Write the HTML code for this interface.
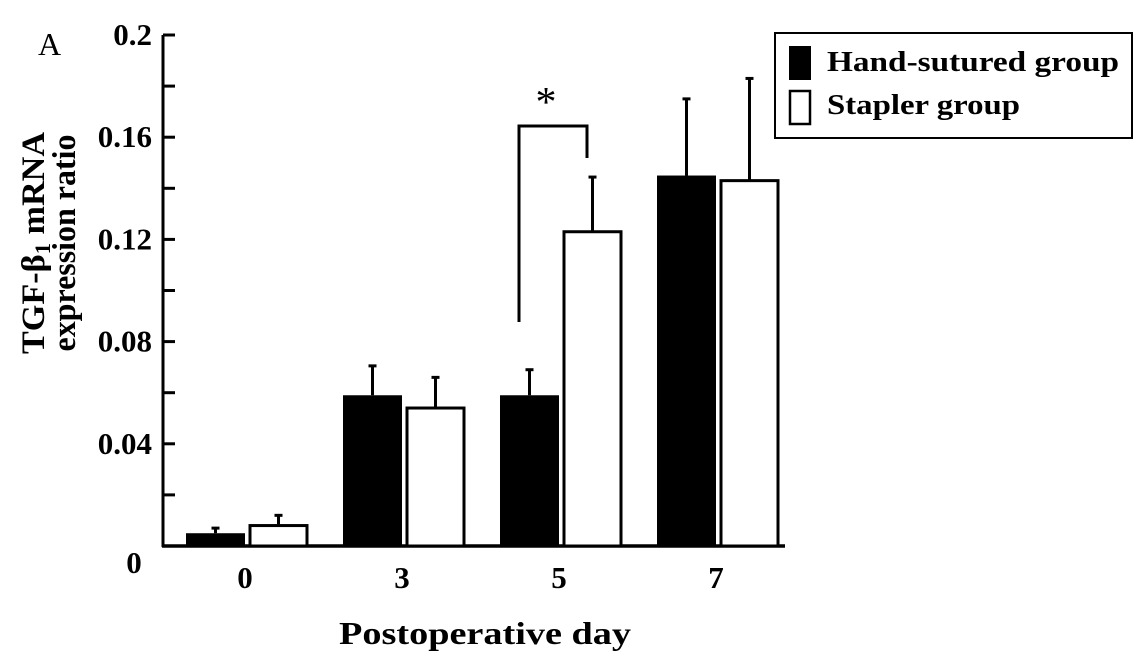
<!DOCTYPE html>
<html><head><meta charset="utf-8"><style>
html,body{margin:0;padding:0;background:#fff;}
svg text{font-family:"Liberation Serif",serif;}
</style></head><body>
<svg id="chart" width="1145" height="657" viewBox="0 0 1145 657" xmlns="http://www.w3.org/2000/svg">
<text x="38" y="55" font-size="32">A</text>
<g font-weight="bold" font-size="33">
<text transform="translate(44,243) rotate(-90)" text-anchor="middle" textLength="222" lengthAdjust="spacingAndGlyphs">TGF-β<tspan font-size="22" dy="6">1</tspan><tspan dy="-6"> mRNA</tspan></text>
<text transform="translate(75,243) rotate(-90)" text-anchor="middle" textLength="217" lengthAdjust="spacingAndGlyphs">expression ratio</text>
</g>
<g id="axes"></g>
<g id="bars"></g>
<g stroke="#000" stroke-width="3" fill="none">
<polyline points="519,322 519,126 587,126 587,158"/>
</g>
<text x="546" y="116" font-size="42" text-anchor="middle">*</text>
<text x="485" y="644" font-size="32" font-weight="bold" text-anchor="middle" textLength="292" lengthAdjust="spacingAndGlyphs">Postoperative day</text>
<g>
<rect x="775" y="33" width="357" height="105" fill="#fff" stroke="#000" stroke-width="2"/>
<rect x="789" y="46" width="22" height="34" fill="#000"/>
<text x="827" y="71" font-size="29" font-weight="bold" textLength="292" lengthAdjust="spacingAndGlyphs">Hand-sutured group</text>
<rect x="790" y="91" width="20" height="33" fill="#fff" stroke="#000" stroke-width="2.5"/>
<text x="827" y="114" font-size="29" font-weight="bold" textLength="193" lengthAdjust="spacingAndGlyphs">Stapler group</text>
</g>
</svg>
<script>
const categories = ["0", "3", "5", "7"];
const handValues = [0.005, 0.059, 0.059, 0.145];
const handErrTop = [0.007, 0.0705, 0.069, 0.175];
const staplerValues = [0.008, 0.054, 0.123, 0.143];
const staplerErrTop = [0.012, 0.066, 0.1444, 0.183];
const yTicks = [0, 0.04, 0.08, 0.12, 0.16, 0.2];
const yTickLabels = ["0", "0.04", "0.08", "0.12", "0.16", "0.2"];

const NS = "http://www.w3.org/2000/svg";
const y0 = 546, yTop = 35, yMax = 0.2;
function yScale(v){ return y0 - (v / yMax) * (y0 - yTop); }
function xCenter(i){ return 245 + i * 157; }
function mk(tag, attrs, parent){ const e = document.createElementNS(NS, tag); for (const k in attrs) e.setAttribute(k, attrs[k]); parent.appendChild(e); return e; }

const axes = document.getElementById('axes');
const bars = document.getElementById('bars');
const yAxis = mk('line', {x1:163, y1:yTop, x2:163, y2:y0+1, stroke:'#000', 'stroke-width':3}, axes);


const xAxis = mk('line', {x1:162, y1:y0, x2:785, y2:y0, stroke:'#000', 'stroke-width':3.5}, axes);



for (let k = 0; k <= 10; k++) {
  const v = k * 0.02;
  const t = mk('line', {x1:163, y1:yScale(v), x2:175, y2:yScale(v), stroke:'#000', 'stroke-width':3}, axes);
  
  
}
yTicks.forEach((v, i) => {
  const isZero = v === 0;
  const t = mk('text', {x: isZero ? 134 : 152, y: yScale(v) + (isZero ? 27 : 10), 'font-size':31, 'font-weight':'bold', 'text-anchor': isZero ? 'middle' : 'end'}, axes);
  t.textContent = yTickLabels[i];
  
  
});

categories.forEach((c, i) => {
  const cx = xCenter(i);
  const lbl = mk('text', {x: cx, y: 588, 'font-size':31, 'font-weight':'bold', 'text-anchor':'middle'}, axes);
  lbl.textContent = c;
  
  

  const hx = cx - 59, hw = 59;
  const hTop = yScale(handValues[i]);
  const eh = mk('line', {x1: hx + hw/2, y1: hTop, x2: hx + hw/2, y2: yScale(handErrTop[i]), stroke:'#000', 'stroke-width':3}, bars);
  
  
  const ch = mk('line', {x1: hx + hw/2 - 4, y1: yScale(handErrTop[i]), x2: hx + hw/2 + 4, y2: yScale(handErrTop[i]), stroke:'#000', 'stroke-width':3}, bars);
  
  
  const bh = mk('rect', {x: hx, y: hTop, width: hw, height: y0 - hTop, fill:'#000'}, bars);
  
  

  const sx = cx + 5, sw = 57;
  const sTop = yScale(staplerValues[i]);
  const es = mk('line', {x1: sx + sw/2, y1: sTop, x2: sx + sw/2, y2: yScale(staplerErrTop[i]), stroke:'#000', 'stroke-width':3}, bars);
  
  
  const cs = mk('line', {x1: sx + sw/2 - 4, y1: yScale(staplerErrTop[i]), x2: sx + sw/2 + 4, y2: yScale(staplerErrTop[i]), stroke:'#000', 'stroke-width':3}, bars);
  
  
  const bs = mk('rect', {x: sx, y: sTop, width: sw, height: y0 - sTop, fill:'#fff', stroke:'#000', 'stroke-width':3}, bars);
  
  
});
</script>
</body></html>
